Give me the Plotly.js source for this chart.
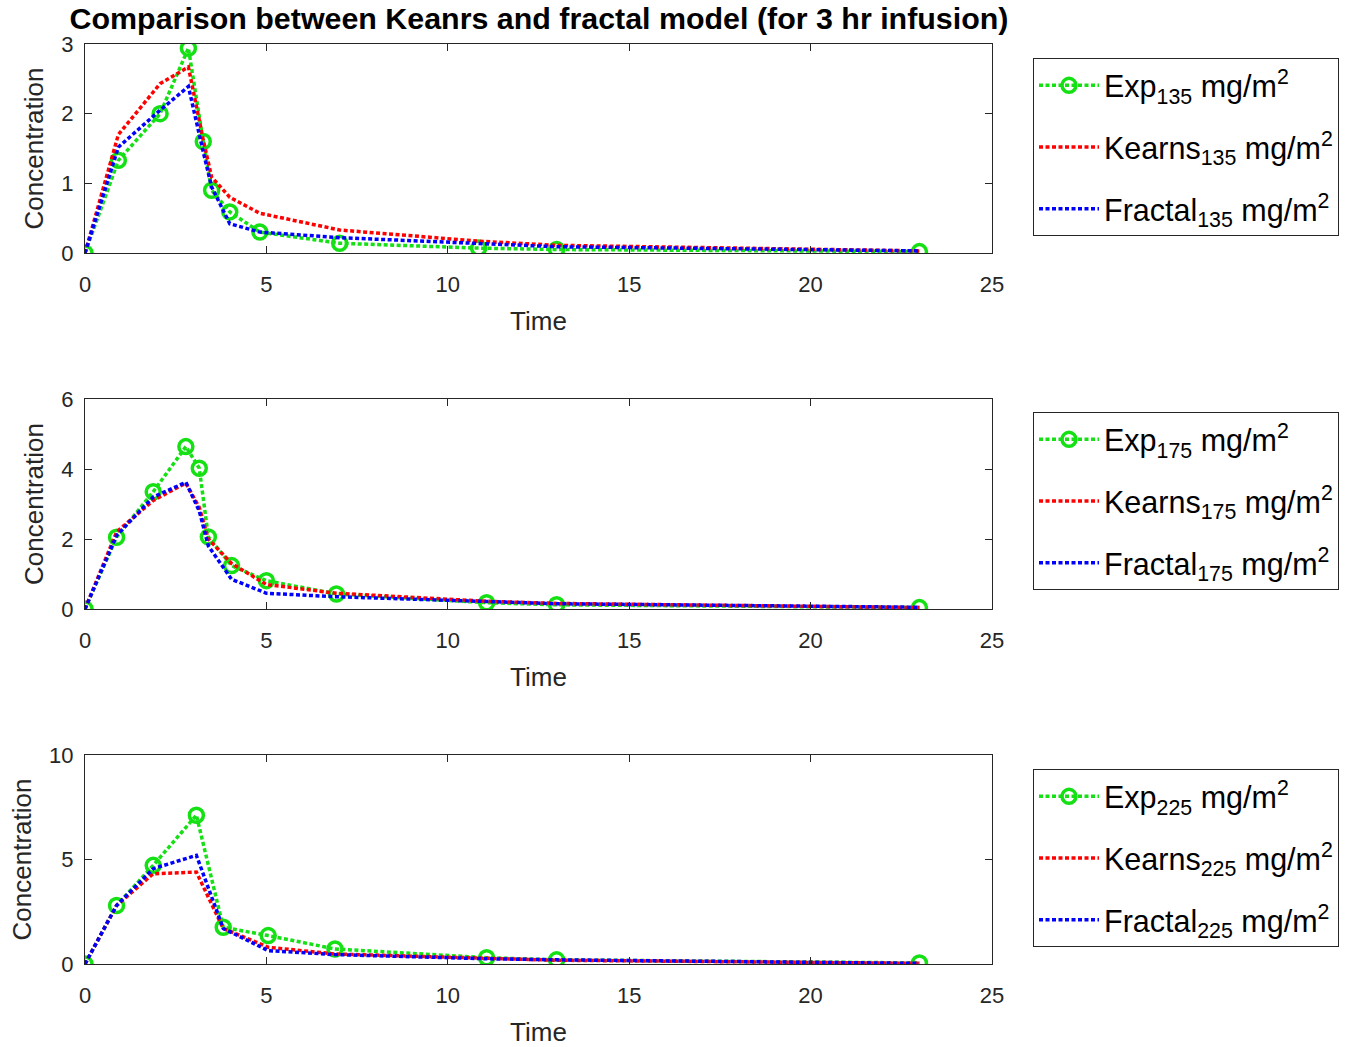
<!DOCTYPE html>
<html>
<head>
<meta charset="utf-8">
<script src="https://cdn.plot.ly/plotly-3.0.1.min.js"></script>
<style>html,body{margin:0;padding:0;background:#fff;}#chart{width:1358px;height:1047px;}</style>
</head>
<body>
<div id="chart"></div>
<script>
// ---- Data ----
const doses = ["135", "175", "225"];

const t135 = [0, 0.92, 2.07, 2.85, 3.26, 3.49, 3.99, 4.82, 7.02, 10.85, 13.0, 23.0];
const exp135 = [0, 1.33, 2.0, 2.94, 1.6, 0.9, 0.59, 0.30, 0.14, 0.07, 0.05, 0.02];
const kearns135 = [0, 1.7, 2.43, 2.67, 1.62, 1.09, 0.80, 0.57, 0.33, 0.17, 0.11, 0.03];
const fractal135 = [0, 1.52, 2.05, 2.39, 1.45, 0.95, 0.42, 0.30, 0.22, 0.13, 0.09, 0.03];

const t175 = [0, 0.87, 1.88, 2.78, 3.15, 3.40, 4.04, 5.0, 6.93, 11.07, 13.0, 23.0];
const exp175 = [0, 2.05, 3.35, 4.64, 4.02, 2.06, 1.24, 0.81, 0.43, 0.18, 0.12, 0.04];
const kearns175 = [0, 2.2, 3.1, 3.6, 2.9, 2.0, 1.3, 0.7, 0.45, 0.22, 0.16, 0.04];
const fractal175 = [0, 2.1, 3.2, 3.62, 2.8, 1.8, 0.85, 0.45, 0.35, 0.2, 0.15, 0.05];

const t225 = [0, 0.87, 1.88, 3.07, 3.81, 5.05, 6.89, 11.07, 13.0, 23.0];
const exp225 = [0, 2.8, 4.72, 7.12, 1.76, 1.36, 0.72, 0.3, 0.2, 0.05];
const kearns225 = [0, 2.8, 4.32, 4.4, 1.7, 0.8, 0.48, 0.25, 0.18, 0.03];
const fractal225 = [0, 2.8, 4.56, 5.2, 1.7, 0.64, 0.45, 0.25, 0.2, 0.03];

const xTicks = [0, 5, 10, 15, 20, 25];
const yTicks135 = [0, 1, 2, 3];
const yTicks175 = [0, 2, 4, 6];
const yTicks225 = [0, 5, 10];

const titleText = "Comparison between Keanrs and fractal model (for 3 hr infusion)";

// ---- Build ----
const W = 1358, H = 1047;
const FONT = "Liberation Sans, Arial, Helvetica, sans-serif";
const GREEN = "#14e014", RED = "#ff0000", BLUE = "#0000ff";
const DASH = "4px,2.5px";

const sets = [
  {dose: doses[0], t: t135, e: exp135, k: kearns135, f: fractal135, yt: yTicks135, top: 44, bot: 253, lgTop: 58},
  {dose: doses[1], t: t175, e: exp175, k: kearns175, f: fractal175, yt: yTicks175, top: 399, bot: 609, lgTop: 412},
  {dose: doses[2], t: t225, e: exp225, k: kearns225, f: fractal225, yt: yTicks225, top: 755, bot: 964, lgTop: 769}
];

const traces = [];
const layout = {
  width: W, height: H,
  margin: {l: 0, r: 0, t: 0, b: 0},
  paper_bgcolor: "#fff", plot_bgcolor: "#fff",
  font: {family: FONT, color: "#262626", size: 22},
  title: {text: "<b>" + titleText + "</b>", x: 539 / W, xanchor: "center", y: 1 - 18 / H, yanchor: "middle",
          font: {family: FONT, size: 30.4, color: "#000"}},
  showlegend: true
};

sets.forEach((s, i) => {
  const n = i === 0 ? "" : String(i + 1);
  const xa = "x" + n, ya = "y" + n;
  const lg = "legend" + n;
  const sub = "<sub>" + s.dose + "</sub> mg/m<sup>2</sup>";
  traces.push({x: s.t, y: s.e, xaxis: xa, yaxis: ya, legend: lg, legendgroup: "e" + i, type: "scatter", mode: "lines+markers",
    name: "Exp" + sub, line: {color: GREEN, width: 3.5, dash: DASH},
    marker: {symbol: "circle-open", size: 14, color: GREEN, line: {width: 3.5, color: GREEN}}});
  traces.push({x: s.t, y: s.k, xaxis: xa, yaxis: ya, legend: lg, legendgroup: "k" + i, type: "scatter", mode: "lines",
    name: "Kearns" + sub, line: {color: RED, width: 3.5, dash: DASH}});
  traces.push({x: s.t, y: s.f, xaxis: xa, yaxis: ya, legend: lg, legendgroup: "f" + i, type: "scatter", mode: "lines",
    name: "Fractal" + sub, line: {color: BLUE, width: 3.5, dash: DASH}});

  const axCommon = {
    showline: true, linecolor: "#262626", linewidth: 1, mirror: "ticks",
    ticks: "inside", ticklen: 7, tickcolor: "#262626", tickwidth: 1,
    showgrid: false, zeroline: false, tickfont: {size: 22, color: "#262626", family: FONT}
  };
  layout["xaxis" + n] = Object.assign({}, axCommon, {
    domain: [85 / W, 992 / W], anchor: ya, range: [0, 25], tickvals: xTicks, ticktext: xTicks.map(String),
    ticklabelstandoff: 12,
    title: {text: "Time", font: {size: 26, color: "#262626"}, standoff: 15}
  });
  const ymax = s.yt[s.yt.length - 1];
  layout["yaxis" + n] = Object.assign({}, axCommon, {
    domain: [1 - s.bot / H, 1 - s.top / H], anchor: xa, range: [0, ymax], tickvals: s.yt, ticktext: s.yt.map(String),
    ticklabelstandoff: 6,
    title: {text: "Concentration", font: {size: 26, color: "#262626"}, standoff: 10}
  });
  layout[lg] = {
    x: 1033 / W, xanchor: "left", y: 1 - s.lgTop / H, yanchor: "top",
    bgcolor: "#fff", bordercolor: "#262626", borderwidth: 1,
    font: {size: 30.5, color: "#000", family: FONT}, itemwidth: 60, tracegroupgap: 19,
    traceorder: "grouped"
  };
});

Plotly.newPlot("chart", traces, layout, {displayModeBar: false, staticPlot: true});
</script>
</body>
</html>
